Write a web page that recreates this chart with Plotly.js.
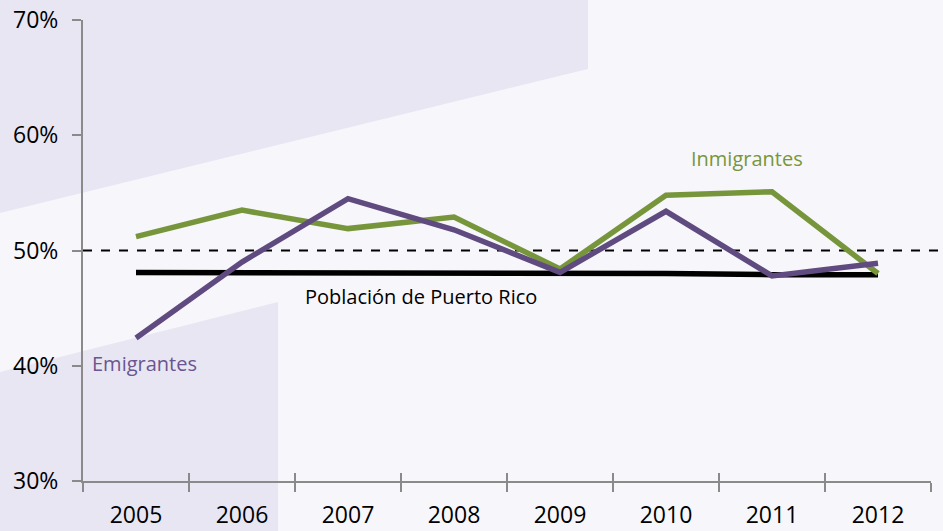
<!DOCTYPE html>
<html>
<head>
<meta charset="utf-8">
<script src="https://cdn.plot.ly/plotly-3.0.1.min.js"></script>
<style>
html,body{margin:0;padding:0;background:#f7f6fb;}
#chart{width:943px;height:531px;}
</style>
</head>
<body>
<div id="chart"></div>
<script>
const years = ["2005","2006","2007","2008","2009","2010","2011","2012"];
const inmigrantes = [51.2, 53.5, 51.9, 52.9, 48.4, 54.8, 55.1, 48.0];
const emigrantes  = [42.4, 49.0, 54.5, 51.8, 48.1, 53.4, 47.8, 48.9];
const poblacion   = [48.1, 48.1, 48.1, 48.0, 48.0, 48.0, 47.9, 47.9];
const yTicks = [30, 40, 50, 60, 70];
const yTickText = ["30%", "40%", "50%", "60%", "70%"];
const refLevel = 50;

const purple = "#5f4b7f";
const green = "#77963b";
const axisGray = "#8a8a8a";
const font = "Open Sans, sans-serif";

const traces = [
  {x: years, y: poblacion, type: "scatter", mode: "lines",
   line: {color: "#000000", width: 5.5}, hoverinfo: "skip"},
  {x: years, y: inmigrantes, type: "scatter", mode: "lines",
   line: {color: green, width: 5.5}},
  {x: years, y: emigrantes, type: "scatter", mode: "lines",
   line: {color: purple, width: 5.5}},
  {x: years, y: poblacion, xaxis: "x2", yaxis: "y", type: "scatter", mode: "markers",
   marker: {opacity: 0, size: 1}, hoverinfo: "skip", showlegend: false}
];

const layout = {
  width: 943, height: 531,
  margin: {l: 83, r: 12, t: 20, b: 50},
  paper_bgcolor: "#f7f6fb",
  plot_bgcolor: "rgba(0,0,0,0)",
  showlegend: false,
  font: {family: font, size: 22, color: "#000"},
  xaxis: {
    type: "category", tickson: "boundaries", ticks: "outside", ticklen: 9,
    tickcolor: axisGray, tickwidth: 2, showline: true, linecolor: axisGray, linewidth: 2,
    showgrid: false, zeroline: false, range: [-0.5, 7.5], ticklabelstandoff: 12,
    tickfont: {family: font, size: 23, color: "#000"}, fixedrange: true
  },
  xaxis2: {
    type: "category", overlaying: "x", anchor: "y", side: "bottom",
    tickson: "boundaries", ticks: "inside", ticklen: 8, tickcolor: axisGray, tickwidth: 2,
    showticklabels: false, showgrid: false, zeroline: false, showline: false,
    range: [-0.5, 7.5], fixedrange: true
  },
  yaxis: {
    range: [30, 70], tickvals: yTicks, ticktext: yTickText,
    ticks: "outside", ticklen: 9, tickcolor: axisGray, tickwidth: 2,
    showline: true, linecolor: axisGray, linewidth: 2, showgrid: false, zeroline: false,
    ticklabelstandoff: 9,
    tickfont: {family: font, size: 23, color: "#000"}, fixedrange: true
  },
  shapes: [
    {type: "path", xref: "paper", yref: "paper", layer: "below",
     path: "M -0.0979 1.05 L 0.5955 1.05 L 0.5955 0.8937 L -0.0979 0.5813 Z",
     fillcolor: "#e8e6f3", line: {width: 0}},
    {type: "path", xref: "paper", yref: "paper", layer: "below",
     path: "M -0.0979 0.2364 L 0.23 0.3883 L 0.23 -0.11 L -0.0979 -0.11 Z",
     fillcolor: "#e8e6f3", line: {width: 0}},
    {type: "line", xref: "paper", yref: "y", x0: 0, x1: 1.015, y0: refLevel, y1: refLevel,
     line: {color: "#000", width: 2, dash: "dash"}, layer: "below"}
  ],
  annotations: [
    {text: "Inmigrantes", x: 5.76, y: 58.0, xref: "x", yref: "y", xanchor: "center",
     showarrow: false, font: {family: font, size: 20, color: green}},
    {text: "Emigrantes", x: 0.08, y: 40.2, xref: "x", yref: "y", xanchor: "center",
     showarrow: false, font: {family: font, size: 20, color: "#6a5590"}},
    {text: "Población de Puerto Rico", x: 2.69, y: 46.0, xref: "x", yref: "y", xanchor: "center",
     showarrow: false, font: {family: font, size: 20, color: "#000"}}
  ]
};

Plotly.newPlot("chart", traces, layout, {displayModeBar: false, staticPlot: true});
</script>
</body>
</html>
